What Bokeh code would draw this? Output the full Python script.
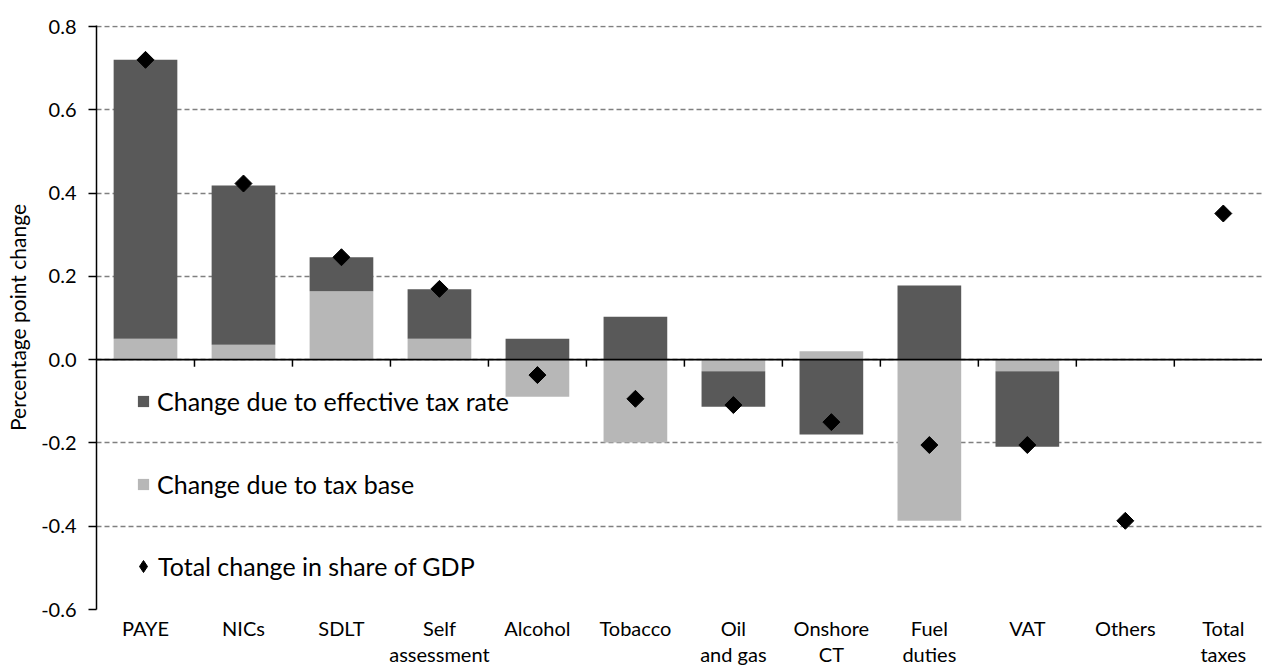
import numpy as np
from bokeh.plotting import figure
from bokeh.models import (Range1d, FixedTicker, PrintfTickFormatter, Span, Legend,
                          LegendItem, ColumnDataSource)
from bokeh.embed import file_html
from bokeh.resources import INLINE

categories = ["PAYE", "NICs", "SDLT", "Self\nassessment", "Alcohol", "Tobacco",
              "Oil\nand gas", "Onshore\nCT", "Fuel\nduties", "VAT", "Others", "Total\ntaxes"]
rate_change = [0.670, 0.382, 0.082, 0.119, 0.050, 0.103, -0.085, -0.180, 0.178, -0.181, 0.0, 0.0]
base_change = [0.050, 0.036, 0.164, 0.050, -0.089, -0.199, -0.028, 0.020, -0.387, -0.028, 0.0, 0.0]
total_change = [0.720, 0.423, 0.246, 0.170, -0.037, -0.094, -0.109, -0.150, -0.205, -0.205, -0.387, 0.351]
y_ticks = [-0.6, -0.4, -0.2, 0.0, 0.2, 0.4, 0.6, 0.8]

FONT = "Lato"
DARK = "#595959"
LIGHT = "#b7b7b7"

n = len(categories)
xc = np.arange(n) + 0.5
rate = np.array(rate_change)
base = np.array(base_change)
same = np.sign(rate) == np.sign(base)
rate_bottom = np.where(same, base, 0.0)
rate_top = rate_bottom + rate

src = ColumnDataSource(dict(x=xc, base_top=base, base_bot=np.zeros(n),
                            rate_bot=rate_bottom, rate_top=rate_top,
                            total=np.array(total_change)))

p = figure(width=1262, height=668, output_backend="svg", toolbar_location=None,
           x_range=Range1d(0, 11.9), y_range=Range1d(-0.6, 0.8025),
           min_border_left=96, min_border_right=0, min_border_top=25, min_border_bottom=0)
p.outline_line_color = None
p.background_fill_color = "white"
p.border_fill_color = "white"

# grid
p.xgrid.grid_line_color = None
p.ygrid.grid_line_color = "#808080"
p.ygrid.grid_line_dash = "5 3"
p.ygrid.grid_line_width = 1.5

bw = 0.65
r_base = p.vbar(x="x", top="base_top", bottom="base_bot", width=bw, source=src,
                fill_color=LIGHT, line_color=None)
r_rate = p.vbar(x="x", top="rate_top", bottom="rate_bot", width=bw, source=src,
                fill_color=DARK, line_color=None)

# zero line with downward ticks at category boundaries
p.add_layout(Span(location=0, dimension="width", line_color="black", line_width=1.8))
bounds = np.arange(1, n)
p.ray(x=bounds, y=np.zeros(len(bounds)), length=7, length_units="screen",
      angle=-np.pi / 2, line_color="black", line_width=1.5)

r_tot = p.scatter(x="x", y="total", source=src, marker="square", angle=np.pi / 4,
                  size=12, fill_color="black", line_color="black")
# hidden renderer used only for the legend key (diamond shape)
r_tot_key = p.scatter(x="x", y="total", source=src, marker="diamond",
                      fill_color="black", line_color="black", visible=False)

# axes
yax = p.yaxis[0]
yax.ticker = FixedTicker(ticks=y_ticks)
yax.formatter = PrintfTickFormatter(format="%.1f")
yax.axis_line_color = "black"
yax.axis_line_width = 1.5
yax.major_tick_line_color = "black"
yax.major_tick_line_width = 1.5
yax.major_tick_out = 8
yax.major_tick_in = 0
yax.minor_tick_line_color = None
yax.major_label_text_font = FONT
yax.major_label_text_font_size = "20px"
yax.major_label_text_color = "black"
yax.major_label_standoff = 12
yax.axis_label = "Percentage point change"
yax.axis_label_text_font = FONT
yax.axis_label_text_font_size = "21px"
yax.axis_label_text_font_style = "normal"
yax.axis_label_text_color = "black"
yax.axis_label_standoff = 8

xax = p.xaxis[0]
xax.ticker = FixedTicker(ticks=list(xc))
xax.major_label_overrides = {float(v): c for v, c in zip(xc, categories)}
xax.axis_line_color = None
xax.major_tick_line_color = None
xax.major_tick_out = 0
xax.major_tick_in = 0
xax.minor_tick_line_color = None
xax.minor_tick_out = 0
xax.major_label_text_font = FONT
xax.major_label_text_font_size = "20px"
xax.major_label_text_line_height = 1.1
xax.major_label_text_color = "black"
xax.major_label_standoff = 6


def style_legend(lg):
    lg.background_fill_alpha = 0
    lg.border_line_color = None
    lg.inactive_fill_alpha = 0
    lg.padding = 0
    lg.margin = 0
    lg.label_text_font = FONT
    lg.label_text_font_size = "25px"
    lg.label_text_color = "black"


legend_bars = Legend(items=[
    LegendItem(label="Change due to effective tax rate", renderers=[r_rate]),
    LegendItem(label="Change due to tax base", renderers=[r_base]),
], location=(40, 110))
style_legend(legend_bars)
legend_bars.spacing = 53
legend_bars.label_height = 30
legend_bars.glyph_height = 14
legend_bars.glyph_width = 14
legend_bars.label_standoff = 7
p.add_layout(legend_bars)

legend_tot = Legend(items=[
    LegendItem(label="Total change in share of GDP", renderers=[r_tot_key]),
], location=(32, 27))
style_legend(legend_tot)
legend_tot.label_height = 30
legend_tot.glyph_height = 32
legend_tot.glyph_width = 30
legend_tot.label_standoff = -1
p.add_layout(legend_tot)

open("out.html", "w").write(file_html(p, INLINE))
